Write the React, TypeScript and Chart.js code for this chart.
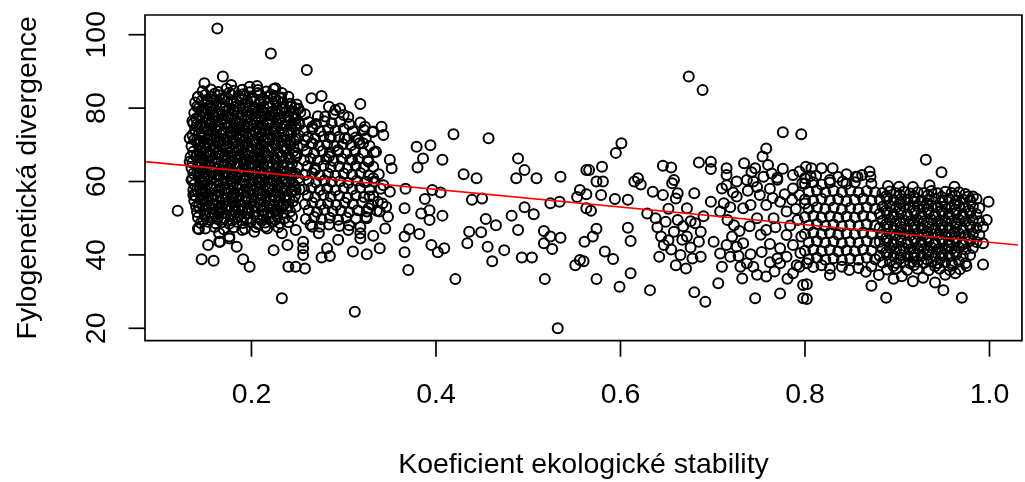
import React, { useEffect, useRef } from 'react';
import { Chart, registerables } from 'chart.js';

Chart.register(...registerables);

// ---- axis & text ----
const xTicks = [0.2, 0.4, 0.6, 0.8, 1.0];
const xTickLabels = ['0.2', '0.4', '0.6', '0.8', '1.0'];
const yTicks = [20, 40, 60, 80, 100];
const yTickLabels = ['20', '40', '60', '80', '100'];
const xTitle = 'Koeficient ekologické stability';
const yTitle = 'Fylogenetická divergence';
const xMin = 0.0846;
const xMax = 1.0309;
const xBoxRight = 1.0352;
const yMin = 16.62;
const yMax = 105.37;

// ---- regression line (abline) end points ----
const lineX = [0.0846, 1.0309];
const lineY = [65.4, 42.7];

// ---- data: (stability, divergence) ----
const outliers: [number, number][] = [
  [.163,101.7],[.221,94.9],[.260,90.4],[.318,81.1],[.120,52.0],[.233,28.2],[.312,24.5],[.532,20.0],
  [.674,88.6],[.689,84.9],[.776,73.4],[.796,72.9],
];

const leftCore: [number, number][] = [
  [.147,84.6],[.156,85.1],[.164,84.4],[.173,85.3],[.181,84.7],[.190,85.0],[.198,84.3],[.207,84.9],[.216,84.5],[.224,85.2],[.233,84.1],
  [.142,83.0],[.150,83.6],[.157,83.1],[.165,83.5],[.171,82.9],[.178,83.7],[.186,83.2],[.193,83.4],[.201,82.8],[.209,83.6],[.217,83.0],[.225,83.3],[.231,82.7],[.240,83.1],
  [.139,81.5],[.146,82.0],[.153,81.7],[.160,82.1],[.167,81.4],[.174,81.9],[.181,81.6],[.189,82.2],[.196,81.5],[.203,81.8],[.210,82.0],[.218,81.3],[.226,81.9],[.234,81.5],[.242,81.2],[.249,81.0],
  [.141,80.4],[.148,80.0],[.155,80.6],[.162,80.2],[.169,80.5],[.176,79.9],[.183,80.4],[.191,80.1],[.198,80.6],[.205,80.0],[.213,80.3],[.220,80.5],[.227,79.9],[.235,80.2],[.243,80.4],[.251,79.8],
  [.138,78.7],[.145,79.0],[.151,78.5],[.158,78.9],[.165,78.6],[.172,79.1],[.179,78.4],[.186,78.8],[.193,79.0],[.200,78.5],[.207,78.9],[.214,78.6],[.222,79.0],[.229,78.3],[.237,78.8],[.245,78.5],[.253,78.9],
  [.140,77.2],[.147,77.6],[.154,77.0],[.161,77.4],[.168,77.1],[.175,77.5],[.182,77.0],[.189,77.3],[.196,77.6],[.204,77.1],[.211,77.4],[.218,77.0],[.225,77.5],[.232,77.2],[.240,77.4],[.248,77.0],
  [.137,75.9],[.144,75.5],[.150,76.0],[.157,75.7],[.164,75.4],[.171,75.9],[.178,75.6],[.185,76.1],[.192,75.5],[.199,75.8],[.206,76.0],[.213,75.4],[.220,75.9],[.228,75.6],[.236,75.3],[.244,75.8],[.252,75.5],
  [.139,74.2],[.146,74.5],[.153,74.0],[.160,74.4],[.167,74.1],[.174,74.6],[.181,74.2],[.188,74.0],[.195,74.5],[.202,74.2],[.209,74.4],[.216,73.9],[.224,74.3],[.232,74.5],[.240,74.0],[.248,74.3],
  [.136,72.7],[.143,73.0],[.149,72.6],[.156,72.9],[.163,72.5],[.170,73.1],[.177,72.7],[.184,72.9],[.191,72.4],[.198,72.8],[.205,73.0],[.212,72.6],[.220,72.9],[.227,72.5],[.235,72.8],[.243,73.0],[.251,72.6],
  [.138,71.4],[.145,71.0],[.152,71.5],[.159,71.2],[.166,71.0],[.173,71.4],[.180,71.1],[.187,71.6],[.194,71.2],[.201,71.0],[.208,71.5],[.215,71.2],[.223,71.4],[.230,70.9],[.238,71.3],[.246,71.1],
  [.135,69.7],[.142,70.0],[.148,69.6],[.155,69.9],[.162,69.5],[.169,70.0],[.176,69.7],[.183,69.5],[.190,69.9],[.197,69.6],[.204,70.0],[.211,69.7],[.218,69.4],[.226,69.8],[.234,69.6],[.242,69.9],[.250,69.5],
  [.137,68.2],[.144,68.5],[.151,68.1],[.158,68.4],[.165,68.0],[.172,68.5],[.179,68.2],[.186,68.4],[.193,67.9],[.200,68.3],[.207,68.5],[.214,68.1],[.221,68.4],[.229,68.0],[.237,68.3],[.245,68.1],
  [.134,66.7],[.141,67.0],[.147,66.6],[.154,66.9],[.161,66.5],[.168,67.0],[.175,66.7],[.182,66.9],[.189,66.4],[.196,66.8],[.203,67.0],[.210,66.6],[.217,66.9],[.225,66.5],[.233,66.8],[.241,66.6],[.249,67.0],
  [.136,65.2],[.143,65.5],[.150,65.0],[.157,65.4],[.164,65.1],[.171,65.5],[.178,65.2],[.185,64.9],[.192,65.4],[.199,65.1],[.206,65.5],[.213,65.0],[.220,65.3],[.228,65.1],[.236,65.4],[.244,65.0],
  [.135,63.7],[.142,64.0],[.148,63.6],[.155,63.9],[.162,63.5],[.169,64.0],[.176,63.7],[.183,63.9],[.190,63.4],[.197,63.8],[.204,64.0],[.211,63.6],[.218,63.9],[.226,63.5],[.234,63.8],[.242,63.6],[.250,63.9],
  [.137,62.2],[.144,62.5],[.151,62.1],[.158,62.4],[.165,62.0],[.172,62.5],[.179,62.2],[.186,62.4],[.193,61.9],[.200,62.3],[.207,62.5],[.214,62.1],[.221,62.4],[.229,62.0],[.237,62.3],[.245,62.1],
  [.136,60.7],[.143,61.0],[.149,60.6],[.156,60.9],[.163,60.5],[.170,61.0],[.177,60.7],[.184,60.9],[.191,60.4],[.198,60.8],[.205,61.0],[.212,60.6],[.219,60.9],[.227,60.5],[.235,60.8],[.243,60.6],[.251,60.9],
  [.138,59.2],[.145,59.5],[.152,59.1],[.159,59.4],[.166,59.0],[.173,59.5],[.180,59.2],[.187,59.4],[.194,58.9],[.201,59.3],[.208,59.5],[.215,59.1],[.222,59.4],[.230,59.0],[.238,59.3],[.246,59.1],
  [.137,57.7],[.144,58.0],[.150,57.6],[.157,57.9],[.164,57.5],[.171,58.0],[.178,57.7],[.185,57.9],[.192,57.4],[.199,57.8],[.206,58.0],[.213,57.6],[.220,57.9],[.228,57.5],[.236,57.8],[.244,57.6],[.252,57.9],
  [.139,56.2],[.146,56.5],[.153,56.1],[.160,56.4],[.167,56.0],[.174,56.5],[.181,56.2],[.188,56.4],[.195,55.9],[.202,56.3],[.209,56.5],[.216,56.1],[.223,56.4],[.231,56.0],[.239,56.3],[.247,56.1],
  [.138,54.7],[.145,55.0],[.151,54.6],[.158,54.9],[.165,54.5],[.172,55.0],[.179,54.7],[.186,54.9],[.193,54.4],[.200,54.8],[.207,55.0],[.214,54.6],[.221,54.9],[.229,54.5],[.237,54.8],[.245,54.6],
  [.140,53.2],[.147,53.5],[.154,53.1],[.161,53.4],[.168,53.0],[.175,53.5],[.182,53.2],[.189,53.4],[.196,52.9],[.203,53.3],[.210,53.5],[.217,53.1],[.224,53.4],[.232,53.0],[.240,53.3],[.248,53.1],
  [.141,51.7],[.148,52.0],[.155,51.6],[.162,51.9],[.169,51.5],[.176,52.0],[.183,51.7],[.190,51.9],[.197,51.4],[.204,51.8],[.211,52.0],[.218,51.6],[.226,51.9],[.234,51.5],[.242,51.8],
  [.142,50.2],[.150,50.5],[.157,50.1],[.164,50.4],[.171,50.0],[.178,50.5],[.185,50.2],[.192,50.4],[.199,49.9],[.206,50.3],[.213,50.5],[.220,50.1],[.228,50.4],[.236,50.0],[.244,50.3],
  [.145,48.7],[.153,49.0],[.161,48.6],[.168,48.9],[.176,48.5],[.184,49.0],[.191,48.7],[.199,48.9],[.207,48.4],[.215,48.8],[.223,49.0],[.231,48.6],[.240,48.9],
  [.150,47.2],[.160,47.6],[.170,47.0],[.181,47.5],[.193,47.1],[.205,47.6],[.217,47.2],[.229,47.5],
];

// extra overlapping observations filling the densest part of the left cluster
const leftCoreFill: [number, number][] = [
  [.152,82.3],[.168,82.6],[.184,82.1],[.199,82.5],[.214,82.2],[.229,81.9],
  [.144,77.9],[.159,78.2],[.174,77.8],[.190,78.1],[.205,77.7],[.220,78.0],[.236,77.6],
  [.147,73.6],[.162,73.9],[.178,73.5],[.193,73.8],[.209,73.4],[.224,73.7],[.240,73.3],
  [.145,69.1],[.160,69.4],[.176,69.0],[.191,69.3],[.207,68.9],[.222,69.2],[.238,68.8],
  [.146,64.6],[.161,64.9],[.177,64.5],[.192,64.8],[.208,64.4],[.223,64.7],[.239,64.3],
  [.147,60.1],[.162,60.4],[.178,60.0],[.193,60.3],[.209,59.9],[.224,60.2],[.240,59.8],
  [.148,55.6],[.163,55.9],[.179,55.5],[.194,55.8],[.210,55.4],[.225,55.7],[.241,55.3],
  [.150,51.1],[.165,51.4],[.181,51.0],[.196,51.3],[.212,50.9],[.227,51.2],
  [.156,80.1],[.171,79.8],[.187,80.3],[.202,79.9],[.218,80.2],[.233,79.7],[.247,80.0],
  [.141,75.6],[.156,75.9],[.171,75.5],[.187,75.8],[.202,75.4],[.218,75.7],[.233,75.9],[.248,75.4],
  [.141,71.3],[.156,71.6],[.171,71.2],[.187,71.5],[.202,71.3],[.218,71.6],[.233,71.2],[.248,71.5],
  [.140,66.8],[.156,67.1],[.171,66.7],[.187,67.0],[.202,66.6],[.218,66.9],[.233,67.1],[.248,66.7],
  [.141,62.3],[.156,62.6],[.171,62.2],[.187,62.5],[.202,62.1],[.218,62.4],[.233,62.6],[.248,62.2],
  [.141,57.8],[.156,58.1],[.171,57.7],[.187,58.0],[.202,57.6],[.218,57.9],[.233,58.1],[.248,57.7],
  [.143,53.3],[.158,53.6],[.173,53.2],[.189,53.5],[.204,53.1],[.220,53.4],[.235,53.6],
  [.148,49.5],[.163,49.8],[.179,49.4],[.195,49.7],[.211,49.3],[.226,49.6],
  [.160,83.9],[.176,84.2],[.191,83.8],[.207,84.1],[.221,83.7],
  [.149,79.3],[.164,79.0],[.180,79.4],[.195,79.1],[.211,79.3],[.226,78.9],[.241,79.2],
  [.150,74.8],[.165,75.1],[.181,74.7],[.196,75.0],[.212,74.6],[.227,74.9],[.243,75.2],
  [.149,70.3],[.164,70.6],[.180,70.2],[.195,70.5],[.211,70.1],[.226,70.4],[.242,70.7],
  [.148,65.8],[.163,66.1],[.179,65.7],[.194,66.0],[.210,65.6],[.225,65.9],[.241,66.2],
  [.149,61.3],[.164,61.6],[.180,61.2],[.195,61.5],[.211,61.1],[.226,61.4],[.242,61.7],
  [.150,56.8],[.165,57.1],[.181,56.7],[.196,57.0],[.212,56.6],[.227,56.9],[.243,57.2],
  [.151,52.3],[.166,52.6],[.182,52.2],[.197,52.5],[.213,52.1],[.228,52.4],
];

const leftOuter: [number, number][] = [
  [.258,78.3],[.272,77.8],[.289,78.4],[.305,77.6],
  [.262,76.2],[.270,75.7],[.279,76.4],[.287,75.9],[.296,76.3],[.306,75.6],[.318,76.1],
  [.257,73.8],[.266,74.3],[.274,73.7],[.283,74.2],[.291,73.9],[.300,74.4],[.310,73.6],[.322,74.0],[.331,73.5],
  [.261,72.1],[.269,71.7],[.278,72.3],[.286,71.9],[.295,72.2],[.304,71.6],[.313,72.0],[.324,71.8],
  [.256,69.8],[.265,70.3],[.273,69.7],[.282,70.1],[.290,69.6],[.299,70.2],[.308,69.9],[.317,70.4],[.328,69.7],
  [.260,68.2],[.268,67.7],[.277,68.3],[.285,67.9],[.294,68.1],[.303,67.6],[.312,68.2],[.321,67.8],[.333,68.0],
  [.257,65.8],[.264,66.3],[.272,65.7],[.281,66.1],[.289,65.6],[.298,66.2],[.307,65.9],[.316,66.3],[.326,65.7],
  [.261,64.2],[.269,63.7],[.278,64.3],[.286,63.9],[.295,64.1],[.304,63.6],[.313,64.2],[.322,63.8],[.332,64.0],
  [.258,61.8],[.266,62.3],[.274,61.7],[.283,62.1],[.291,61.6],[.300,62.2],[.309,61.9],[.318,62.3],[.327,61.7],[.338,62.0],
  [.262,60.2],[.270,59.7],[.279,60.3],[.287,59.9],[.296,60.1],[.305,59.6],[.314,60.2],[.323,59.8],[.333,60.0],
  [.257,57.8],[.265,58.3],[.274,57.7],[.282,58.1],[.291,57.6],[.300,58.2],[.309,57.9],[.318,58.3],[.328,57.7],[.340,58.0],
  [.261,56.2],[.269,55.7],[.278,56.3],[.286,55.9],[.295,56.1],[.304,55.6],[.313,56.2],[.322,55.8],[.332,56.0],
  [.258,53.8],[.266,54.3],[.275,53.7],[.283,54.1],[.292,53.6],[.301,54.2],[.310,53.9],[.320,54.3],[.330,53.7],[.342,54.0],
  [.262,52.2],[.271,51.7],[.279,52.3],[.288,51.9],[.297,52.1],[.306,51.6],[.315,52.2],[.325,51.8],[.336,52.0],
  [.259,49.8],[.268,50.3],[.276,49.7],[.285,50.1],[.294,49.6],[.303,50.2],[.313,49.9],[.324,50.3],
  [.264,48.2],[.274,47.7],[.284,48.3],[.295,47.9],[.306,48.1],[.318,47.6],
];

const leftFringe: [number, number][] = [
  [.149,86.8],[.169,88.6],[.178,86.3],[.198,85.8],[.206,86.0],[.226,85.4],[.232,82.9],[.265,82.7],[.276,83.3],[.284,80.4],
  [.296,79.9],[.300,78.1],[.280,77.7],[.291,79.5],[.142,83.1],[.143,80.0],[.285,72.2],[.301,71.8],[.316,71.3],[.323,74.9],
  [.284,66.8],[.309,65.9],[.321,70.4],[.294,68.6],[.266,70.4],[.266,74.9],[.251,75.9],[.258,71.3],[.248,67.7],[.269,63.1],
  [.133,71.8],[.133,65.4],[.135,60.4],[.137,56.3],[.136,76.5],[.142,47.2],
  [.143,47.0],[.153,42.7],[.146,38.8],[.159,38.4],[.166,43.6],[.184,42.2],[.191,38.8],[.198,36.8],[.176,45.0],[.224,41.3],
  [.239,42.7],[.240,36.8],[.248,36.8],[.258,36.3],[.256,43.6],[.256,41.8],[.256,40.0],[.276,39.3],[.285,39.7],[.282,41.8],
  [.310,40.9],[.325,40.2],[.273,45.9],[.294,44.1],[.305,46.8],[.318,45.9],[.318,44.5],[.203,46.3],[.190,46.8],[.165,45.9],
  [.215,47.7],[.233,45.9],[.248,46.8],[.266,47.7],[.165,43.6],[.176,44.5],
  [.325,59.9],[.332,60.9],[.343,59.0],[.350,57.2],[.328,55.9],[.337,54.5],[.346,53.1],[.327,52.7],[.339,51.8],[.348,50.4],
  [.325,50.0],[.345,47.2],[.332,45.2],[.339,41.8],
  [.341,74.9],[.343,72.7],[.332,73.6],[.350,65.9],[.352,63.6],[.335,68.1],[.327,65.4],
];

const midSparse: [number, number][] = [
  [.379,69.5],[.394,69.9],[.386,66.3],[.380,63.8],[.407,65.9],[.419,72.9],[.457,71.8],[.430,62.0],[.444,60.9],[.489,66.3],
  [.496,63.1],[.487,60.9],[.509,60.9],[.535,61.3],[.563,63.1],
  [.367,58.0],[.388,55.2],[.396,57.7],[.405,57.0],[.366,52.7],[.384,51.3],[.393,52.2],[.393,49.5],[.407,50.7],[.366,45.0],
  [.371,47.0],[.382,45.7],[.366,40.7],[.370,35.9],[.395,42.7],[.402,40.7],[.409,41.8],[.421,33.4],[.439,55.0],[.450,55.4],
  [.454,49.8],[.465,48.1],[.436,46.3],[.449,46.2],[.434,43.2],[.456,42.2],[.474,41.3],[.461,38.3],[.482,50.7],[.496,53.0],
  [.506,51.1],[.489,46.8],[.493,39.3],[.504,39.3],[.517,46.5],[.517,43.2],[.524,45.0],[.526,41.6],[.535,44.7],[.518,33.4],
  [.524,54.1],[.534,54.5],[.551,37.2],[.556,38.6],[.561,43.6],[.556,57.7],[.553,55.8],[.563,56.5],[.568,52.0],
];

const midDense: [number, number][] = [
  [.601,70.4],[.595,67.8],[.566,63.1],[.580,64.0],[.646,64.3],[.655,63.8],[.685,65.2],[.698,65.4],[.698,63.4],[.715,63.6],
  [.715,61.8],[.734,65.0],[.746,63.6],[.754,66.8],[.758,69.0],[.764,62.2],[.787,61.8],[.794,62.7],[.619,60.9],[.658,60.4],
  [.563,52.7],[.574,47.1],[.570,45.0],[.560,38.3],[.583,40.9],[.592,38.9],[.574,33.4],[.599,31.3],[.611,35.0],[.632,30.4],
  [.608,47.4],[.611,43.8],[.594,55.2],[.608,55.0],[.615,60.0],[.622,59.2],[.579,56.3],[.574,60.0],[.581,60.0],[.635,57.2],
  [.646,56.3],[.656,59.5],[.662,56.8],[.660,55.4],[.629,51.3],[.638,50.0],[.649,49.0],[.644,45.0],[.647,42.7],[.642,39.5],
  [.658,46.3],[.667,44.1],[.672,45.0],[.660,37.2],[.665,40.0],[.671,36.3],[.680,56.8],[.672,52.7],[.681,48.6],[.687,46.3],
  [.685,43.6],[.687,39.5],[.680,29.8],[.692,27.2],[.698,54.5],[.712,54.1],[.708,51.8],[.701,43.6],[.708,40.4],[.715,42.7],
  [.706,32.3],[.710,36.8],[.715,59.0],[.710,58.1],[.726,60.0],[.737,60.4],[.726,55.9],[.733,52.7],[.741,53.6],[.723,48.1],
  [.721,45.0],[.726,42.2],[.719,39.5],[.733,43.2],[.730,36.8],[.737,37.7],[.744,36.8],[.732,33.6],[.746,28.2],[.758,34.1],
  [.773,29.5],[.798,31.8],[.798,28.2],[.751,56.3],[.758,53.6],[.773,54.5],[.780,51.8],[.766,50.0],[.758,46.8],[.780,45.4],
  [.773,41.8],[.787,42.7],[.780,39.5],[.791,37.2],[.773,37.7],[.744,60.0],[.755,61.3],[.787,58.1],[.794,56.3],
  [.640,47.5],[.652,44.0],[.655,41.5],[.662,49.5],[.668,47.8],[.676,42.0],[.678,39.0],[.652,52.6],[.690,50.5],[.676,49.2],
  [.716,49.5],[.729,46.5],[.740,47.8],[.748,50.0],[.752,45.5],[.762,43.0],[.768,47.5],[.770,39.0],[.784,48.0],[.792,49.5],
  [.796,45.0],[.762,38.0],[.753,40.8],[.741,40.2],[.787,35.0],[.795,40.5],[.767,35.5],[.781,33.5],[.748,34.6],[.728,39.7],
  [.748,58.5],[.762,58.0],[.770,60.5],[.778,56.5],[.786,55.0],[.797,59.5],[.765,55.5],[.738,57.5],[.722,57.0],[.719,53.0],
  [.790,52.5],[.800,54.0],[.742,62.5],[.760,64.5],[.776,63.5],[.801,64.0],[.806,61.5],[.770,61.0],
];

const rightMid: [number, number][] = [
  [.812,61.6],[.836,61.2],[.862,61.8],
  [.800,59.4],[.809,59.8],[.818,59.2],[.827,59.7],[.845,59.3],[.854,59.8],[.872,59.4],
  [.804,57.2],[.813,57.6],[.822,57.0],[.831,57.5],[.840,57.1],[.849,57.6],[.858,57.0],[.867,57.4],[.876,57.1],
  [.800,55.1],[.809,54.7],[.818,55.3],[.827,54.8],[.836,55.2],[.845,54.6],[.854,55.0],[.863,55.4],[.872,54.8],
  [.804,52.6],[.813,53.0],[.822,52.5],[.831,52.9],[.840,52.4],[.849,52.8],[.858,52.5],[.867,53.0],[.876,52.6],
  [.800,50.3],[.809,50.7],[.818,50.2],[.827,50.6],[.836,50.1],[.845,50.5],[.854,50.2],[.863,50.7],[.872,50.3],
  [.804,48.0],[.813,48.4],[.822,47.9],[.831,48.3],[.840,47.8],[.849,48.2],[.858,47.9],[.867,48.4],[.876,48.0],
  [.800,45.7],[.809,46.1],[.818,45.6],[.827,46.0],[.836,45.5],[.845,45.9],[.854,45.6],[.863,46.1],[.872,45.7],
  [.804,43.4],[.813,43.8],[.822,43.3],[.831,43.7],[.840,43.2],[.849,43.6],[.858,43.3],[.867,43.8],[.876,43.4],
  [.800,41.1],[.809,41.5],[.818,41.0],[.827,41.4],[.836,40.9],[.845,41.3],[.854,41.0],[.863,41.5],[.872,41.1],
  [.804,38.8],[.813,39.2],[.822,38.7],[.831,39.1],[.840,38.6],[.849,39.0],[.858,38.7],[.867,39.2],[.876,38.8],
  [.809,36.7],[.827,36.3],[.840,36.8],[.858,36.4],[.872,36.9],
];

const rightCore: [number, number][] = [
  [.884,56.9],[.892,57.3],[.899,56.8],[.907,57.2],[.914,56.7],[.922,57.1],[.929,56.9],[.937,57.4],[.944,56.8],[.952,57.2],[.959,56.9],[.967,57.1],[.974,56.6],
  [.881,55.0],[.889,55.3],[.896,54.9],[.904,55.2],[.911,55.0],[.919,55.4],[.926,54.8],[.934,55.1],[.941,55.3],[.949,54.9],[.956,55.2],[.964,54.8],[.971,55.1],[.979,54.9],[.986,55.2],
  [.884,53.1],[.892,53.4],[.899,53.0],[.907,53.3],[.914,52.9],[.922,53.3],[.929,53.0],[.937,53.4],[.944,52.9],[.952,53.2],[.959,53.0],[.967,53.4],[.974,52.9],[.982,53.2],[.989,52.8],
  [.881,51.2],[.889,51.5],[.896,51.1],[.904,51.4],[.911,51.0],[.919,51.4],[.926,51.1],[.934,51.5],[.941,51.0],[.949,51.3],[.956,51.1],[.964,51.5],[.971,51.0],[.979,51.4],[.986,51.1],
  [.884,49.3],[.892,49.6],[.899,49.2],[.907,49.5],[.914,49.1],[.922,49.5],[.929,49.2],[.937,49.6],[.944,49.1],[.952,49.4],[.959,49.2],[.967,49.6],[.974,49.1],[.982,49.5],[.989,49.2],
  [.881,47.4],[.889,47.7],[.896,47.3],[.904,47.6],[.911,47.2],[.919,47.6],[.926,47.3],[.934,47.7],[.941,47.2],[.949,47.5],[.956,47.3],[.964,47.7],[.971,47.2],[.979,47.6],[.986,47.3],
  [.884,45.5],[.892,45.8],[.899,45.4],[.907,45.7],[.914,45.3],[.922,45.7],[.929,45.4],[.937,45.8],[.944,45.3],[.952,45.6],[.959,45.4],[.967,45.8],[.974,45.3],[.982,45.7],[.989,45.4],
  [.881,43.6],[.889,43.9],[.896,43.5],[.904,43.8],[.911,43.4],[.919,43.8],[.926,43.5],[.934,43.9],[.941,43.4],[.949,43.7],[.956,43.5],[.964,43.9],[.971,43.4],[.979,43.8],[.986,43.5],
  [.884,41.7],[.892,42.0],[.899,41.6],[.907,41.9],[.914,41.5],[.922,41.9],[.929,41.6],[.937,42.0],[.944,41.5],[.952,41.8],[.959,41.6],[.967,42.0],[.974,41.5],[.982,41.9],
  [.881,39.8],[.889,40.1],[.896,39.7],[.904,40.0],[.911,39.6],[.919,40.0],[.926,39.7],[.934,40.1],[.941,39.6],[.949,39.9],[.956,39.7],[.964,40.1],[.971,39.6],[.979,40.0],
  [.884,37.9],[.892,38.2],[.899,37.8],[.907,38.1],[.914,37.7],[.922,38.1],[.929,37.8],[.937,38.2],[.944,37.7],[.952,38.0],[.959,37.8],[.967,38.2],[.974,37.7],
  [.889,36.0],[.899,36.3],[.911,35.9],[.922,36.2],[.934,35.8],[.946,36.2],[.957,35.9],[.968,36.1],
];

// extra overlapping observations in the densest part of the right cluster
const rightCoreFill: [number, number][] = [
  [.903,54.2],[.918,54.5],[.932,54.0],[.947,54.3],[.962,53.9],
  [.896,50.4],[.911,50.6],[.926,50.2],[.941,50.5],[.956,50.1],[.971,50.4],
  [.903,46.6],[.918,46.8],[.932,46.4],[.947,46.7],[.962,46.3],
  [.896,42.8],[.911,43.0],[.926,42.6],[.941,42.9],[.956,42.5],[.971,42.8],
  [.903,39.0],[.918,39.2],[.932,38.8],[.947,39.1],
  [.888,56.0],[.903,56.3],[.918,55.9],[.933,56.2],[.948,55.8],[.963,56.1],
  [.888,52.2],[.903,52.5],[.918,52.1],[.933,52.4],[.948,52.0],[.963,52.3],[.978,52.1],
  [.888,48.4],[.903,48.7],[.918,48.3],[.933,48.6],[.948,48.2],[.963,48.5],[.978,48.3],
  [.888,44.6],[.903,44.9],[.918,44.5],[.933,44.8],[.948,44.4],[.963,44.7],[.978,44.5],
  [.888,40.8],[.903,41.1],[.918,40.7],[.933,41.0],[.948,40.6],[.963,40.9],
  [.896,37.0],[.918,37.2],[.941,36.9],[.960,37.1],
];

const rightFringe: [number, number][] = [
  [.970,28.3],[.950,30.4],[.888,28.3],[.872,31.6],[.802,32.0],[.802,28.0],[.880,34.5],[.866,35.4],[.848,35.9],[.827,34.5],
  [.818,37.2],[.802,37.7],[.794,36.8],[.905,34.2],[.928,33.8],[.952,34.6],[.941,32.5],[.975,37.0],[.963,35.0],[.917,32.8],
  [.896,33.5],
  [.807,63.6],[.818,63.6],[.830,63.6],[.845,62.0],[.857,61.3],[.870,62.7],[.931,65.9],[.948,62.5],[.800,60.9],[.827,60.4],
  [.841,60.0],[.855,61.3],[.871,61.3],[.902,58.6],[.977,55.9],[.982,55.9],[.999,54.5],[.993,47.7],[.993,43.2],[.993,37.4],
  [.997,49.5],[.890,58.8],[.917,58.5],[.935,59.0],[.962,58.6],
];

const FONT = '28.5px "Liberation Sans", Arial, Helvetica, sans-serif';

const rAxes = {
  id: 'rAxes',
  afterDraw(chart: any) {
    const { ctx, chartArea, scales } = chart;
    const xs = scales.x;
    const ys = scales.y;
    const left = chartArea.left;
    const top = chartArea.top;
    const bottom = chartArea.bottom;
    const right = xs.getPixelForValue(xBoxRight);
    ctx.save();
    ctx.strokeStyle = '#000';
    ctx.lineWidth = 1.7;
    ctx.beginPath();
    ctx.rect(left, top, right - left, bottom - top);
    ctx.stroke();
    ctx.fillStyle = '#000';
    ctx.font = FONT;
    ctx.textAlign = 'center';
    ctx.textBaseline = 'alphabetic';
    xTicks.forEach((v, i) => {
      const px = xs.getPixelForValue(v);
      ctx.beginPath();
      ctx.moveTo(px, bottom);
      ctx.lineTo(px, bottom + 16);
      ctx.stroke();
      ctx.fillText(xTickLabels[i], px, bottom + 62);
    });
    yTicks.forEach((v, i) => {
      const py = ys.getPixelForValue(v);
      ctx.beginPath();
      ctx.moveTo(left, py);
      ctx.lineTo(left - 16.5, py);
      ctx.stroke();
      ctx.save();
      ctx.translate(left - 40, py);
      ctx.rotate(-Math.PI / 2);
      ctx.fillText(yTickLabels[i], 0, 0);
      ctx.restore();
    });
    ctx.fillText(xTitle, (left + right) / 2, bottom + 132.5);
    ctx.save();
    ctx.translate(36, (top + bottom) / 2);
    ctx.rotate(-Math.PI / 2);
    ctx.fillText(yTitle, 0, 0);
    ctx.restore();
    ctx.restore();
  },
};

export default function App() {
  const ref = useRef<HTMLCanvasElement>(null);
  useEffect(() => {
    const canvas = ref.current;
    if (!canvas) return;
    const all = [
      ...leftCore, ...leftCoreFill, ...leftOuter, ...leftFringe, ...midSparse, ...midDense,
      ...rightMid, ...rightCore, ...rightCoreFill, ...rightFringe, ...outliers,
    ].map(([x, y]) => ({ x, y }));
    const chart = new Chart(canvas, {
      type: 'scatter',
      data: {
        datasets: [
          {
            type: 'line',
            data: lineX.map((x, i) => ({ x, y: lineY[i] })),
            borderColor: '#ff0000',
            borderWidth: 1.7,
            pointRadius: 0,
            showLine: true,
            fill: false,
            tension: 0,
          } as any,
          {
            type: 'scatter',
            data: all,
            pointStyle: 'circle',
            pointRadius: 5.0,
            pointBorderWidth: 2.0,
            pointBorderColor: '#000',
            pointBackgroundColor: 'rgba(0,0,0,0)',
            borderColor: '#000',
            backgroundColor: 'rgba(0,0,0,0)',
            showLine: false,
          } as any,
        ],
      },
      options: {
        responsive: false,
        animation: false,
        devicePixelRatio: 1,
        events: [],
        layout: { padding: { left: 145, top: 15, right: 0, bottom: 141.3 } },
        plugins: { legend: { display: false }, tooltip: { enabled: false } },
        scales: {
          x: { type: 'linear', min: xMin, max: xMax, display: false },
          y: { type: 'linear', min: yMin, max: yMax, display: false },
        },
      },
      plugins: [rAxes],
    } as any);
    return () => chart.destroy();
  }, []);
  return (
    <div style={{ position: 'absolute', left: 0, top: 0, width: 1025, height: 482, background: '#fff', overflow: 'hidden' }}>
      <canvas ref={ref} width={1025} height={482} style={{ display: 'block' }} />
    </div>
  );
}
